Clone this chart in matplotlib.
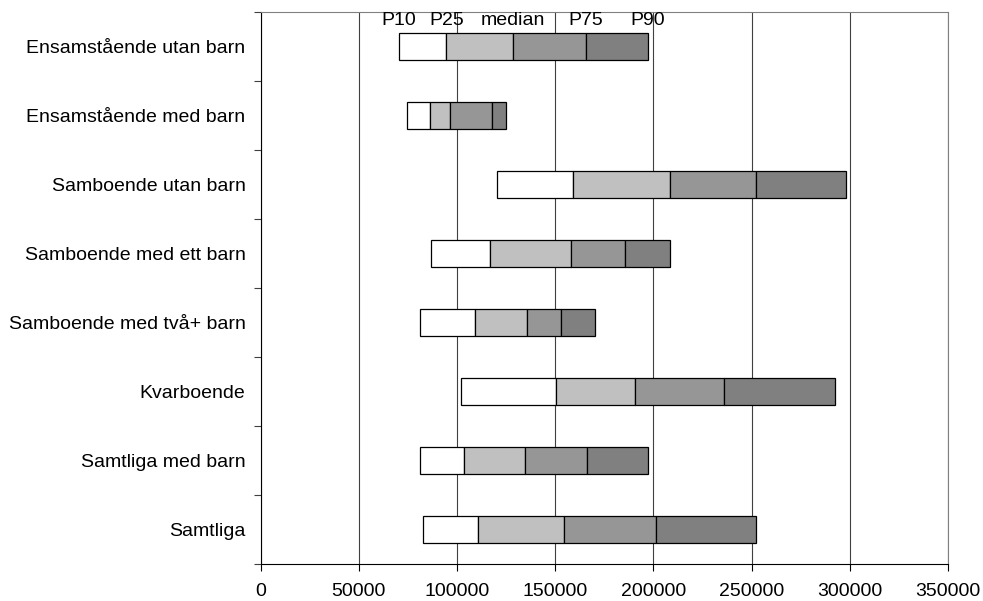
import numpy as np
import matplotlib
matplotlib.use("Agg")
import matplotlib.pyplot as plt

plt.rcParams['font.family'] = ['Liberation Sans', 'DejaVu Sans']

categories = ["Ensamstående utan barn", "Ensamstående med barn", "Samboende utan barn",
              "Samboende med ett barn", "Samboende med två+ barn", "Kvarboende",
              "Samtliga med barn", "Samtliga"]
p10 = [70300, 74300, 120200, 86900, 81100, 102200, 81100, 82500]
p25 = [94500, 86000, 159200, 116600, 109300, 150400, 103700, 110600]
median = [128600, 96200, 208400, 157800, 135700, 190700, 134700, 154600]
p75 = [165500, 117800, 252000, 185300, 153100, 235900, 166300, 201500]
p90 = [197000, 124700, 297900, 208200, 170400, 292300, 197000, 252200]
labels = ["P10", "P25", "median", "P75", "P90"]
colors = ["white", "#c0c0c0", "#969696", "#808080"]

fig = plt.figure(figsize=(9.83, 6.01), dpi=100)
ax = fig.add_axes([0.2652, 0.0616, 0.6992, 0.9184])

y = np.arange(len(categories))
bounds = [p10, p25, median, p75, p90]
for i in range(4):
    lo = np.array(bounds[i])
    hi = np.array(bounds[i + 1])
    ax.barh(y, hi - lo, left=lo, height=0.405, color=colors[i],
            edgecolor="black", linewidth=0.9, zorder=3)

# labels above the top bar
for lab, v in zip(labels, [b[0] for b in bounds]):
    ax.text(v, -0.5, lab, ha="center", va="top", fontsize=14, zorder=4)

ax.set_xlim(0, 350000)
ax.set_ylim(len(categories) - 0.5, -0.5)
ax.set_xticks(np.arange(0, 350001, 50000))
ax.xaxis.grid(True, color="#404040", linewidth=0.8, zorder=0)

ax.set_yticks(y)
ax.set_yticklabels(categories)
ax.set_yticks(np.arange(-0.5, len(categories) + 0.5, 1), minor=True)
ax.tick_params(axis="y", which="major", length=0, pad=11, labelsize=14)
ax.tick_params(axis="y", which="minor", length=5, width=0.8, color="#404040")
ax.tick_params(axis="x", length=5, width=0.8, pad=8.5, labelsize=14)

ax.spines["top"].set_color("#808080")
ax.spines["right"].set_color("#808080")
for s in ax.spines.values():
    s.set_linewidth(0.8)

fig.savefig("out.png", dpi=100)
